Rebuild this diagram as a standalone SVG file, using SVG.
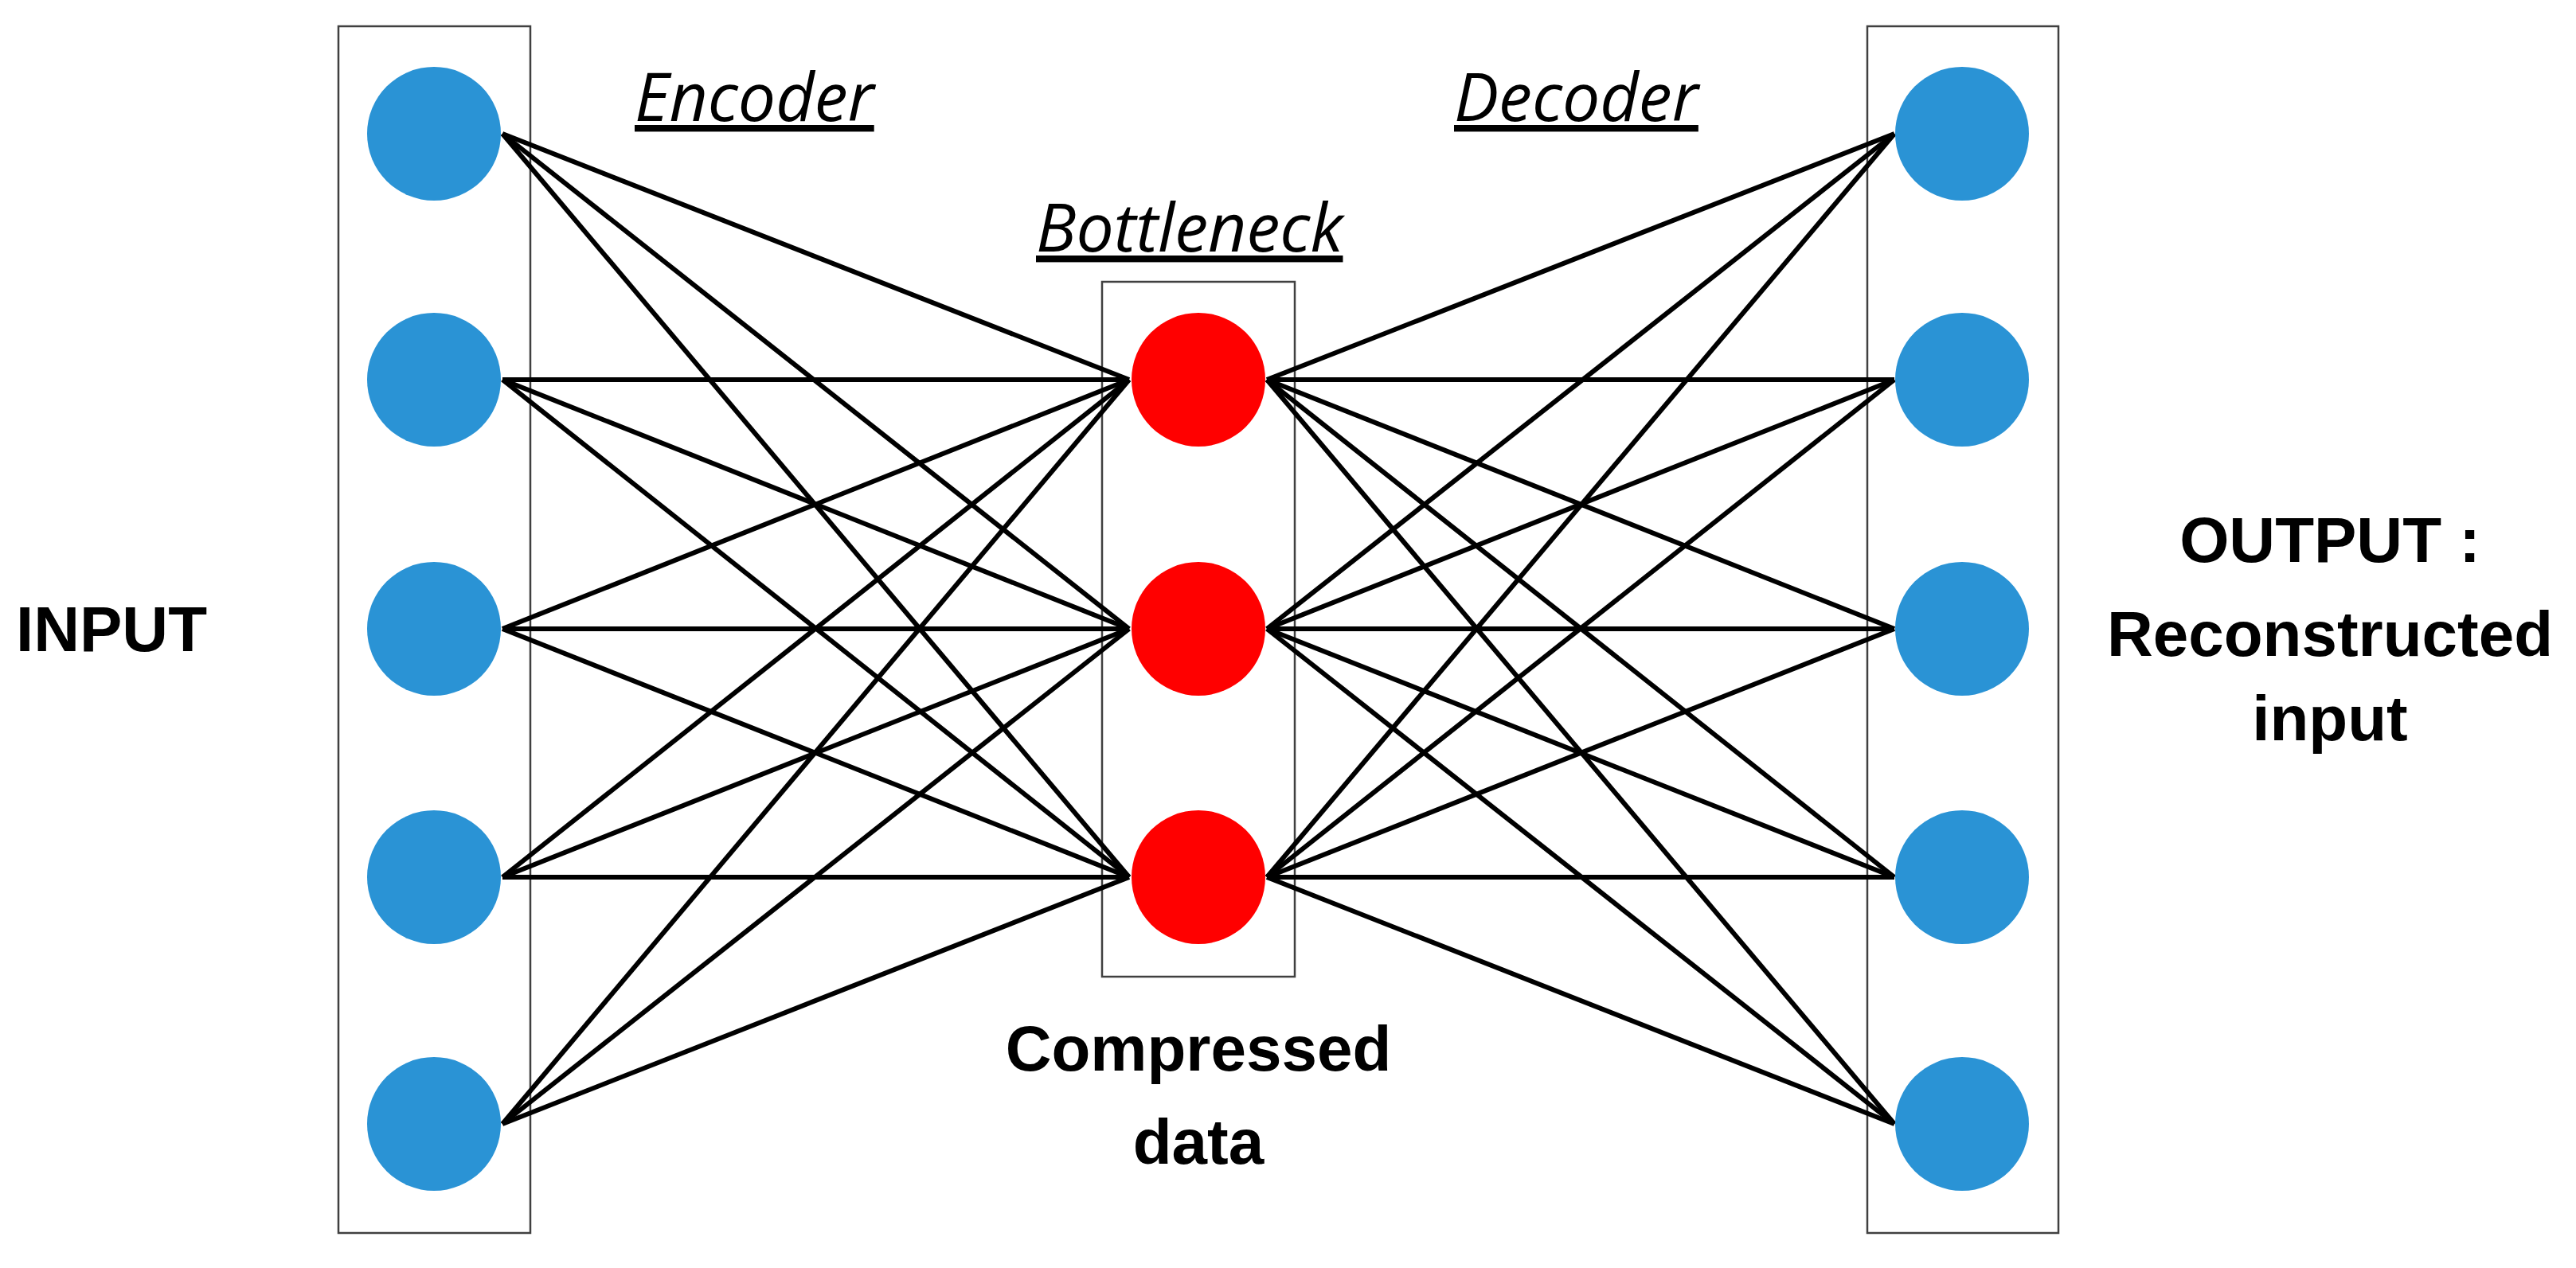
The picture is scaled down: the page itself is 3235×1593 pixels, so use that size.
<svg xmlns="http://www.w3.org/2000/svg" width="3235" height="1593" viewBox="0 0 3235 1593">
<style>
.box{fill:none;stroke:#404040;stroke-width:2.5}
.in{fill:#2a93d5}
.bn{fill:#ff0000}
.c line{stroke:#000;stroke-width:6}
.lbl{font-family:"Liberation Sans",Arial,sans-serif;font-weight:bold;font-size:80px;fill:#000;text-anchor:middle}
.it{font-family:"Open Sans","Liberation Sans",sans-serif;font-style:italic;font-size:84px;fill:#000;text-decoration:underline}
</style>
<rect width="3235" height="1593" fill="#fff"/>
<rect class="box" x="425" y="33" width="241" height="1516"/>
<rect class="box" x="1384" y="354" width="242" height="873"/>
<rect class="box" x="2345" y="33" width="240" height="1516"/>
<g class="c" id="connectors">
<line x1="631" y1="168" x2="1418" y2="477"/><line x1="631" y1="168" x2="1418" y2="790"/><line x1="631" y1="168" x2="1418" y2="1102"/>
<line x1="631" y1="477" x2="1418" y2="477"/><line x1="631" y1="477" x2="1418" y2="790"/><line x1="631" y1="477" x2="1418" y2="1102"/>
<line x1="631" y1="790" x2="1418" y2="477"/><line x1="631" y1="790" x2="1418" y2="790"/><line x1="631" y1="790" x2="1418" y2="1102"/>
<line x1="631" y1="1102" x2="1418" y2="477"/><line x1="631" y1="1102" x2="1418" y2="790"/><line x1="631" y1="1102" x2="1418" y2="1102"/>
<line x1="631" y1="1412" x2="1418" y2="477"/><line x1="631" y1="1412" x2="1418" y2="790"/><line x1="631" y1="1412" x2="1418" y2="1102"/>
<line x1="2379" y1="168" x2="1591" y2="477"/><line x1="2379" y1="168" x2="1591" y2="790"/><line x1="2379" y1="168" x2="1591" y2="1102"/>
<line x1="2379" y1="477" x2="1591" y2="477"/><line x1="2379" y1="477" x2="1591" y2="790"/><line x1="2379" y1="477" x2="1591" y2="1102"/>
<line x1="2379" y1="790" x2="1591" y2="477"/><line x1="2379" y1="790" x2="1591" y2="790"/><line x1="2379" y1="790" x2="1591" y2="1102"/>
<line x1="2379" y1="1102" x2="1591" y2="477"/><line x1="2379" y1="1102" x2="1591" y2="790"/><line x1="2379" y1="1102" x2="1591" y2="1102"/>
<line x1="2379" y1="1412" x2="1591" y2="477"/><line x1="2379" y1="1412" x2="1591" y2="790"/><line x1="2379" y1="1412" x2="1591" y2="1102"/>
</g>
<g id="in1"><circle class="in" cx="545" cy="168" r="84"/></g>
<g id="in2"><circle class="in" cx="545" cy="477" r="84"/></g>
<g id="in3"><circle class="in" cx="545" cy="790" r="84"/></g>
<g id="in4"><circle class="in" cx="545" cy="1102" r="84"/></g>
<g id="in5"><circle class="in" cx="545" cy="1412" r="84"/></g>
<g id="b1"><circle class="bn" cx="1505" cy="477" r="84"/></g>
<g id="b2"><circle class="bn" cx="1505" cy="790" r="84"/></g>
<g id="b3"><circle class="bn" cx="1505" cy="1102" r="84"/></g>
<g id="out1"><circle class="in" cx="2464" cy="168" r="84"/></g>
<g id="out2"><circle class="in" cx="2464" cy="477" r="84"/></g>
<g id="out3"><circle class="in" cx="2464" cy="790" r="84"/></g>
<g id="out4"><circle class="in" cx="2464" cy="1102" r="84"/></g>
<g id="out5"><circle class="in" cx="2464" cy="1412" r="84"/></g>
<text class="it" x="797" y="152">Encoder</text>
<text class="it" x="1301" y="316">Bottleneck</text>
<text class="it" x="1826" y="152">Decoder</text>
<text class="lbl" x="1505" y="1345">Compressed</text>
<text class="lbl" x="1505" y="1462">data</text>
<text class="lbl" x="140" y="818">INPUT</text>
<text class="lbl" x="2926" y="706">OUTPUT :</text>
<text class="lbl" x="2926" y="824">Reconstructed</text>
<text class="lbl" x="2926" y="930">input</text>
</svg>
